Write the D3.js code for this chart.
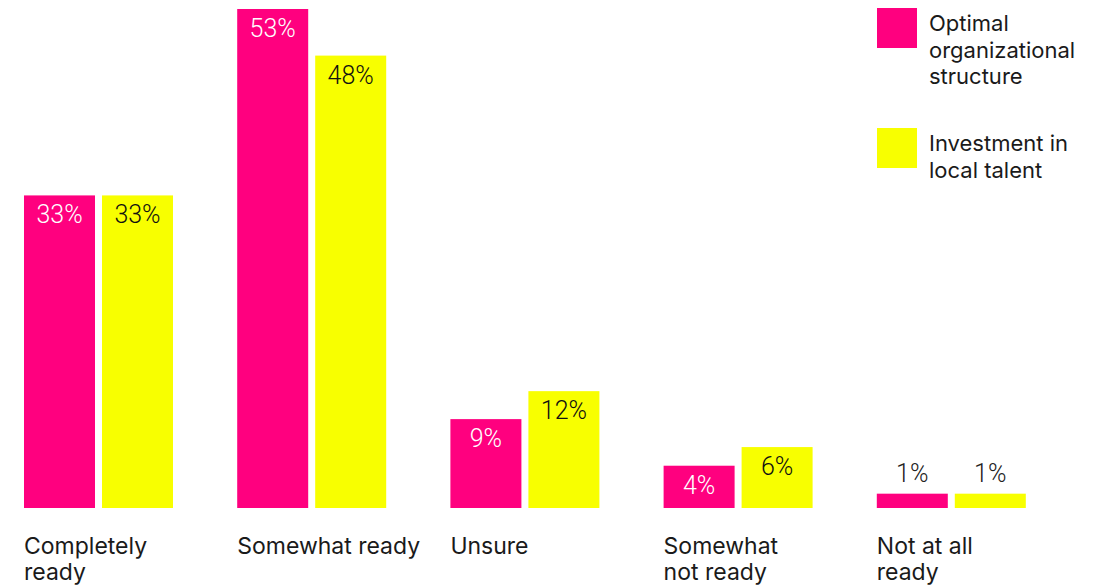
<!DOCTYPE html>
<html>
<head>
<meta charset="utf-8">
<script src="https://cdnjs.cloudflare.com/ajax/libs/d3/7.8.5/d3.min.js"></script>
<style>
  html, body { margin: 0; padding: 0; background: #fff; }
  svg { display: block; }
</style>
</head>
<body>
<div id="chart"></div>
<script>
// Chart Dimensions
var width = 1104;
var height = 586;
var baseline = 508;

// Data
var categories = ["Completely ready", "Somewhat ready", "Unsure", "Somewhat not ready", "Not at all ready"];
var categoryLines = [["Completely", "ready"], ["Somewhat ready"], ["Unsure"], ["Somewhat", "not ready"], ["Not at all", "ready"]];
var seriesNames = ["Optimal organizational structure", "Investment in local talent"];
var legendLines = [["Optimal", "organizational", "structure"], ["Investment in", "local talent"]];
var optimalValues = [33, 53, 9, 4, 1];
var talentValues = [33, 48, 12, 6, 1];

// Colours
var colors = ["#ff007f", "#f8ff00"];
var labelColors = ["#ffffff", "#111111"];
var font = "Inter, 'DejaVu Sans', sans-serif";

var svg = d3.select("#chart").append("svg")
  .attr("width", width)
  .attr("height", height);

// Scales
var x0 = d3.scaleBand().domain(categories).range([24, 24 + 213.2 * 5]).paddingInner(0).paddingOuter(0);
var x1 = d3.scaleBand().domain(seriesNames).range([0, 149]).paddingInner(0.0897).paddingOuter(0);
var y = d3.scaleLinear().domain([0, 53]).range([503, 9]);

var rows = categories.map(function(c, i){
  return {category: c, values: [optimalValues[i], talentValues[i]]};
});

var groups = svg.selectAll("g.group").data(rows).enter().append("g")
  .attr("class", "group")
  .attr("transform", function(d){ return "translate(" + x0(d.category) + ",0)"; });

var bars = groups.selectAll("g.bar").data(function(d){
  return d.values.map(function(v, j){ return {series: seriesNames[j], index: j, value: v}; });
}).enter().append("g").attr("class", "bar");

bars.append("rect")
  .attr("x", function(d){ return x1(d.series); })
  .attr("y", function(d){ return y(d.value); })
  .attr("width", x1.bandwidth())
  .attr("height", function(d){ return baseline - y(d.value); })
  .attr("fill", function(d){ return colors[d.index]; });

// value labels: inside the bar top, or above if bar is too short
bars.append("text")
  .attr("x", function(d){ return x1(d.series) + x1.bandwidth() / 2; })
  .attr("y", function(d){
    var top = y(d.value);
    return (baseline - top) < 30 ? top - 12 : top + 28;
  })
  .attr("text-anchor", "middle")
  .attr("font-family", "Roboto, sans-serif")
  .attr("font-weight", 300)
  .attr("font-size", 25)
  .attr("fill", function(d){
    return (baseline - y(d.value)) < 30 ? "#222" : labelColors[d.index];
  })
  .text(function(d){ return d.value + "%"; });

// category labels
var catText = svg.selectAll("text.cat").data(rows).enter().append("text")
  .attr("class", "cat")
  .attr("x", function(d){ return x0(d.category); })
  .attr("y", 554)
  .attr("font-family", font)
  .attr("font-size", 23)
  .attr("fill", "#1a1a1a");
catText.selectAll("tspan").data(function(d, i){ return categoryLines[i]; }).enter().append("tspan")
  .attr("x", function(){ return x0(d3.select(this.parentNode).datum().category); })
  .attr("dy", function(d, i){ return i === 0 ? 0 : 26; })
  .text(function(d){ return d; });

// legend
var legendTops = [8, 128];
var legend = svg.selectAll("g.legend").data(seriesNames).enter().append("g")
  .attr("class", "legend")
  .attr("transform", function(d, i){ return "translate(877," + legendTops[i] + ")"; });
legend.append("rect")
  .attr("width", 40).attr("height", 40)
  .attr("fill", function(d, i){ return colors[i]; });
var legendText = legend.append("text")
  .attr("x", 52).attr("y", 23)
  .attr("font-family", font)
  .attr("font-size", 22)
  .attr("fill", "#1a1a1a");
legendText.selectAll("tspan").data(function(d, i){ return legendLines[i]; }).enter().append("tspan")
  .attr("x", 52)
  .attr("dy", function(d, i){ return i === 0 ? 0 : 26.5; })
  .text(function(d){ return d; });
</script>
</body>
</html>
